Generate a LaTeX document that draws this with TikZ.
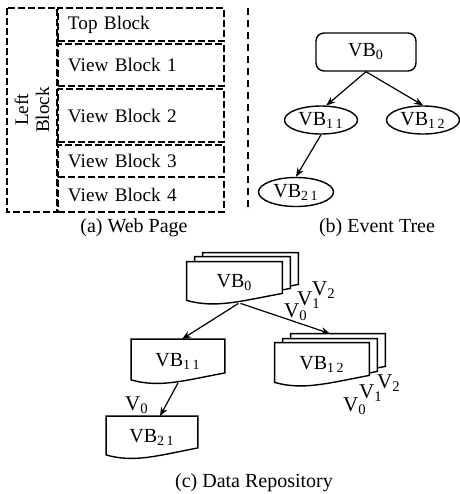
\documentclass[tikz,border=0pt]{standalone}
\usepackage{fontspec}
\setmainfont{Liberation Serif}
\usetikzlibrary{shapes.geometric, arrows.meta, positioning, backgrounds, calc}

%% document sheet with a wavy bottom, #1 node, #2/#3 shift of the sheet
\newcommand{\docframe}[3]{%
  \draw[sheet] ($(#1.north west)+(#2,#3)$) -- ($(#1.north east)+(#2,#3)$)
    -- ($(#1.south east)+(#2,#3)+(0pt,5pt)$)
    .. controls ($(#1.south west)!0.55!(#1.south east)+(#2,#3)+(0pt,1pt)$)
       and ($(#1.south west)!0.3!(#1.south east)+(#2,#3)+(0pt,-2.5pt)$)
    .. ($(#1.south west)+(#2,#3)+(0pt,1.5pt)$) -- cycle;}

\begin{document}
\begin{tikzpicture}[
    x=0.5pt, y=-0.5pt,
    font=\fontsize{10}{11}\selectfont,
    blk/.style    = {rectangle, draw=black, line width=0.7pt,
                     dash pattern=on 3.5pt off 1.5pt,
                     inner xsep=5pt, inner ysep=0pt, outer sep=0pt,
                     text width=73pt, align=left,
                     font=\fontsize{9.6}{11}\selectfont},
    lblk/.style   = {rectangle, draw=black, line width=0.7pt,
                     dash pattern=on 3.5pt off 1.5pt, rotate=90,
                     minimum width=102pt, minimum height=25pt, align=center,
                     font=\fontsize{9.6}{10.5}\selectfont},
    evbox/.style  = {rectangle, draw=black, rounded corners=4pt, line width=0.7pt,
                     minimum width=50pt, minimum height=19pt},
    evnode/.style = {ellipse, draw=black, line width=0.7pt, inner sep=0pt,
                     minimum width=36.5pt, minimum height=14pt},
    doc/.style    = {rectangle, inner sep=0pt},
    sheet/.style  = {draw=black, fill=white, line width=0.7pt},
    ver/.style    = {inner sep=0pt, font=\fontsize{10.5}{11}\selectfont},
    captxt/.style = {font=\fontsize{10}{12}\selectfont},
    arrow/.style  = {-{Stealth[length=4.5pt, width=3.5pt]}, line width=0.6pt}
]
\useasboundingbox (0,0) rectangle (460,494);

%% -- (a) Web Page ------------------------------------------
\node[lblk] (lblk) at (32,110) {Left\\Block};
\node[blk, anchor=north west, minimum height=16.5pt] (topblk) at (58,8) {Top Block};
\node[blk, minimum height=21pt,   below=1.5pt of topblk] (vblk1) {View Block 1};
\node[blk, minimum height=26.5pt, below=1.5pt of vblk1]  (vblk2) {View Block 2};
\node[blk, minimum height=16pt,   below=1.5pt of vblk2]  (vblk3) {View Block 3};
\node[blk, minimum height=17.5pt, below=0pt of vblk3]    (vblk4) {View Block 4};
\node[captxt] (capA) at (134,228) {(a) Web Page};

\coordinate (sepT) at (248,8);
\coordinate (sepB) at (248,212);
\draw[line width=0.7pt, dash pattern=on 3.5pt off 2.5pt] (sepT) -- (sepB);

%% -- (b) Event Tree ----------------------------------------
\node[evbox]  (ev0)  at (366,52)  {VB\textsubscript{0}};
\node[evnode] (ev11) at (321,120) {VB\textsubscript{1\,1}};
\node[evnode] (ev12) at (423,120) {VB\textsubscript{1\,2}};
\node[evnode, minimum width=37.5pt, minimum height=14.5pt] (ev21) at (296,192) {VB\textsubscript{2\,1}};
\node[captxt] (capB) at (377,228) {(b) Event Tree};

\draw[arrow] (ev0.south) -- (ev11.70);
\draw[arrow] (ev0.south) -- (ev12.north);
\draw[arrow] (ev11.south) -- (ev21.north);

%% -- (c) Data Repository -----------------------------------
\node[doc, minimum width=47.5pt, minimum height=20.5pt] (rp0)  at (234.5,282.5) {VB\textsubscript{0}};
\node[doc, minimum width=46.5pt, minimum height=21.5pt] (rp11) at (178,361)     {VB\textsubscript{1\,1}};
\node[doc, minimum width=47pt,   minimum height=21pt]   (rp12) at (322,364)     {VB\textsubscript{1\,2}};
\node[doc, minimum width=45.5pt, minimum height=20.5pt] (rp21) at (152,437)     {VB\textsubscript{2\,1}};

\begin{scope}[on background layer]
  \docframe{rp0}{8pt}{4.5pt}
  \docframe{rp0}{4pt}{2.5pt}
  \docframe{rp0}{0pt}{0pt}
  \docframe{rp11}{0pt}{0pt}
  \docframe{rp12}{8pt}{4.5pt}
  \docframe{rp12}{4pt}{2pt}
  \docframe{rp12}{0pt}{0pt}
  \docframe{rp21}{0pt}{0pt}
\end{scope}

\node[ver] (rp0v0)  at (296,312) {V\textsubscript{0}};
\node[ver] (rp0v1)  at (309,300) {V\textsubscript{1}};
\node[ver] (rp0v2)  at (324,290) {V\textsubscript{2}};
\node[ver] (rp11v0) at (137,405) {V\textsubscript{0}};
\node[ver] (rp12v0) at (355,406) {V\textsubscript{0}};
\node[ver] (rp12v1) at (371,393) {V\textsubscript{1}};
\node[ver] (rp12v2) at (389,383) {V\textsubscript{2}};

\draw[arrow] ([xshift=2pt]rp0.south) -- ([xshift=2pt]rp11.north);
\draw[arrow] ([xshift=3pt]rp0.south) -- ([shift={(4pt,4.5pt)}]rp12.north);
\draw[arrow] (rp11.south) -- ([xshift=4pt]rp21.north);

\node[captxt] (capC) at (254,483) {(c) Data Repository};

\end{tikzpicture}
\end{document}
